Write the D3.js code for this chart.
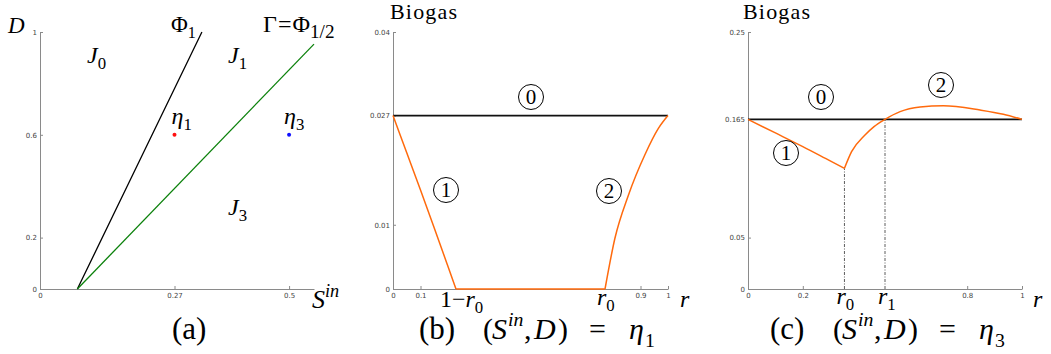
<!DOCTYPE html>
<html>
<head>
<meta charset="utf-8">
<script src="https://cdn.jsdelivr.net/npm/d3@7"></script>
</head>
<body style="margin:0">
<svg id="fig" width="1051" height="354" style="display:block;background:#fff"></svg>
<script>
// ---- (a) operating diagram in the (S^in, D) plane ----
const aTicksS = [0, 0.27, 0.5];
const aTicksD = [0, 0.2, 0.6, 1];
const phi1S = [0.075, 0.2, 0.325];
const phi1D = [0, 0.5, 1];
const gammaS = [0.075, 0.55];
const gammaD = [0, 0.953];
const etaS = [0.27, 0.5];
const etaD = [0.6, 0.6];

// ---- (b) biogas production vs r at eta_1 ----
const bTicksR = [0, 0.1, 0.9, 1];
const bTicksB = [0, 0.01, 0.027, 0.04];
const bTrivial = 0.027;
const bBranch1R = [0, 0.05, 0.1, 0.15, 0.2, 0.229];
const bBranch1V = [0.027, 0.0212, 0.0154, 0.0095, 0.0035, 0];
const bZeroR = [0.229, 0.771];
const bBranch2R = [0.771, 0.807, 0.856, 0.916, 0.965, 1];
const bBranch2V = [0, 0.0079, 0.0146, 0.0209, 0.0250, 0.027];

// ---- (c) biogas production vs r at eta_3 ----
const cTicksR = [0, 0.2, 0.8, 1];
const cTicksB = [0, 0.05, 0.165, 0.25];
const cTrivial = 0.165;
const cBranch1R = [0, 0.1, 0.2, 0.3, 0.352];
const cBranch1V = [0.165, 0.1518, 0.1385, 0.1246, 0.1174];
const cBranch2R = [0.352, 0.378, 0.427, 0.46, 0.5, 0.555, 0.628, 0.713, 0.847, 0.932, 1];
const cBranch2V = [0.1174, 0.1336, 0.1498, 0.158, 0.165, 0.1725, 0.177, 0.1783, 0.1741, 0.170, 0.165];
const cR0 = 0.352, cR1 = 0.5;

const svg = d3.select("#fig");
const ORANGE = "#ff6a0d";
const SERIF = "Liberation Serif";
const yTop = 32, yBot = 289;

function zip(xs, ys) { return xs.map((x, i) => [x, ys[i]]); }

function axes(x, y, xt, yt) {
  const g = svg.append("g");
  const gx = g.append("g").attr("transform", `translate(0,${yBot})`)
    .call(d3.axisBottom(x).tickValues(xt).tickFormat(d => String(d)).tickSize(-3).tickSizeOuter(0).tickPadding(4));
  const gy = g.append("g").attr("transform", `translate(${x.range()[0]},0)`)
    .call(d3.axisLeft(y).tickValues(yt).tickFormat(d => String(d)).tickSize(-3).tickSizeOuter(0).tickPadding(3));
  [gx, gy].forEach(a => {
    a.attr("font-family", "DejaVu Sans").attr("font-size", 7);
    a.selectAll(".tick text").attr("fill", "#444");
    a.selectAll(".tick line").attr("stroke", "#8a8a8a");
    a.select(".domain").attr("stroke", "#8a8a8a");
  });
  return g;
}

// one text element per glyph run, so each run carries its own font settings
function mathLabel(x, y, size, parts) {
  const g = svg.append("g");
  let cx = x;
  parts.forEach(p => {
    const fs = (p.sub || p.sup) ? size * (p.s || 0.7) : size;
    const yy = p.sub ? y + size * 0.25 : p.sup ? y - size * 0.42 : y;
    if (p.x !== undefined) cx = p.x;
    if (p.dx !== undefined) cx += p.dx;
    const t = g.append("text").attr("x", cx).attr("y", yy)
      .attr("font-family", SERIF).attr("font-size", fs)
      .attr("font-style", p.i ? "italic" : "normal").attr("fill", "#000").text(p.t);
    cx += t.node().getComputedTextLength();
  });
  return g;
}

function circled(cx, cy, digit) {
  svg.append("circle").attr("cx", cx).attr("cy", cy).attr("r", 12.5)
    .attr("fill", "none").attr("stroke", "#000").attr("stroke-width", 1);
  svg.append("text").attr("x", cx).attr("y", cy + 7)
    .attr("font-family", SERIF).attr("font-size", 21)
    .attr("text-anchor", "middle").text(digit);
}

function bottomCaption(x0, letter) {
  mathLabel(x0, 339, 31, [{ t: "(" + letter + ")" }]);
}
function etaCaption(x0, idx) {
  mathLabel(x0, 339, 30, [
    { t: "(", x: x0 }, { t: "S", i: true, x: x0 + 9 }, { t: "in", i: true, sup: true, s: 0.66, x: x0 + 25 },
    { t: ",", x: x0 + 41 }, { t: "D", i: true, x: x0 + 51 }, { t: ")", x: x0 + 75 },
    { t: "=", x: x0 + 106 }, { t: "η", i: true, x: x0 + 146 }, { t: idx, sub: true, s: 0.66, x: x0 + 162 }
  ]);
}

// ===== panel (a) =====
{
  const x = d3.scaleLinear().domain([0, 0.55]).range([40, 314]);
  const y = d3.scaleLinear().domain([0, 1]).range([yBot, yTop]);
  axes(x, y, aTicksS, aTicksD);
  const line = d3.line().x(d => x(d[0])).y(d => y(d[1]));
  svg.append("path").attr("d", line(zip(phi1S, phi1D))).attr("fill", "none").attr("stroke", "#000").attr("stroke-width", 1.3);
  svg.append("path").attr("d", line(zip(gammaS, gammaD))).attr("fill", "none").attr("stroke", "#0a800a").attr("stroke-width", 1.3);
  svg.selectAll(".eta").data(zip(etaS, etaD)).enter().append("circle")
    .attr("cx", d => x(d[0])).attr("cy", d => y(d[1])).attr("r", 2)
    .attr("fill", (d, i) => i === 0 ? "#ff1010" : "#1010ff");

  mathLabel(8, 33, 23, [{ t: "D", i: true }]);
  mathLabel(171, 32, 23, [{ t: "Φ" }, { t: "1", sub: true }]);
  mathLabel(263, 32, 24, [{ t: "Γ" }, { t: "=", dx: 1 }, { t: "Φ", dx: 1 }, { t: "1/2", sub: true, s: 0.8 }]);
  mathLabel(87, 63, 24, [{ t: "J", i: true }, { t: "0", sub: true }]);
  mathLabel(228, 63, 24, [{ t: "J", i: true }, { t: "1", sub: true }]);
  mathLabel(228, 215, 24, [{ t: "J", i: true }, { t: "3", sub: true }]);
  mathLabel(x(etaS[0]) - 3, 124, 24, [{ t: "η", i: true }, { t: "1", sub: true }]);
  mathLabel(x(etaS[1]) - 5, 124, 24, [{ t: "η", i: true }, { t: "3", sub: true }]);
  mathLabel(312, 308, 26, [{ t: "S", i: true }, { t: "in", i: true, sup: true }]);
  bottomCaption(172, "a");
}

// ===== panel (b) =====
{
  const x = d3.scaleLinear().domain([0, 1]).range([393, 668]);
  const y = d3.scaleLinear().domain([0, 0.04]).range([yBot, yTop]);
  axes(x, y, bTicksR, bTicksB);
  const curve = d3.line().x(d => x(d[0])).y(d => y(d[1])).curve(d3.curveMonotoneX);
  svg.append("path").attr("d", curve([[0, bTrivial], [1, bTrivial]])).attr("fill", "none").attr("stroke", "#111").attr("stroke-width", 1.8);
  [zip(bBranch1R, bBranch1V), bZeroR.map(r => [r, 0]), zip(bBranch2R, bBranch2V)].forEach(seg => {
    svg.append("path").attr("d", curve(seg)).attr("fill", "none").attr("stroke", ORANGE).attr("stroke-width", 1.5);
  });
  svg.append("text").attr("x", 390).attr("y", 19).attr("font-family", SERIF).attr("font-size", 22)
    .attr("textLength", 67).text("Biogas");
  circled(531, 97, "0");
  circled(446, 190, "1");
  circled(609, 191, "2");
  mathLabel(x(bZeroR[0]) - 16, 307, 24, [{ t: "1" }, { t: "−" }, { t: "r", i: true }, { t: "0", sub: true }]);
  mathLabel(x(bZeroR[1]) - 8, 305, 24, [{ t: "r", i: true }, { t: "0", sub: true }]);
  mathLabel(680, 307, 24, [{ t: "r", i: true }]);
  bottomCaption(419, "b");
  etaCaption(483, "1");
}

// ===== panel (c) =====
{
  const x = d3.scaleLinear().domain([0, 1]).range([748, 1022]);
  const y = d3.scaleLinear().domain([0, 0.25]).range([yBot, yTop]);
  axes(x, y, cTicksR, cTicksB);
  const curve = d3.line().x(d => x(d[0])).y(d => y(d[1])).curve(d3.curveMonotoneX);
  // guides from the kink and the crossing down to the axis
  [[cR0, cBranch1V[cBranch1V.length - 1]], [cR1, cTrivial]].forEach(([r, v]) => {
    svg.append("line").attr("x1", x(r)).attr("x2", x(r)).attr("y1", y(0)).attr("y2", y(v))
      .attr("stroke", "#333").attr("stroke-width", 0.8).attr("stroke-dasharray", "3,1.5,1,1.5");
  });
  svg.append("path").attr("d", curve([[0, cTrivial], [1, cTrivial]])).attr("fill", "none").attr("stroke", "#111").attr("stroke-width", 1.8);
  [zip(cBranch1R, cBranch1V), zip(cBranch2R, cBranch2V)].forEach(seg => {
    svg.append("path").attr("d", curve(seg)).attr("fill", "none").attr("stroke", ORANGE).attr("stroke-width", 1.5);
  });
  svg.append("text").attr("x", 743).attr("y", 19).attr("font-family", SERIF).attr("font-size", 22)
    .attr("textLength", 67).text("Biogas");
  circled(821, 97, "0");
  circled(786, 153, "1");
  circled(941, 85, "2");
  mathLabel(x(cR0) - 8, 304, 24, [{ t: "r", i: true }, { t: "0", sub: true }]);
  mathLabel(x(cR1) - 7, 304, 24, [{ t: "r", i: true }, { t: "1", sub: true }]);
  mathLabel(1033, 307, 24, [{ t: "r", i: true }]);
  bottomCaption(770, "c");
  etaCaption(833, "3");
}
</script>
</body>
</html>
